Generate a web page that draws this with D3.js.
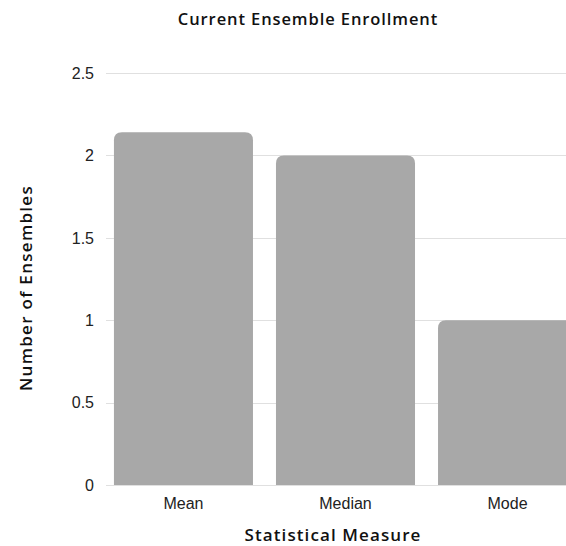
<!DOCTYPE html>
<html><head><meta charset="utf-8">
<script src="https://cdn.jsdelivr.net/npm/d3@7"></script>
<style>body{margin:0;background:#fff;}svg{display:block;}</style>
</head><body>
<script>
const categories = ["Mean", "Median", "Mode"];
const values = [2.14, 2, 1];
const yTicks = [0, 0.5, 1, 1.5, 2, 2.5];

const W = 566, H = 546;
const svg = d3.select("body").append("svg").attr("width", W).attr("height", H);

const y = d3.scaleLinear().domain([0, 2.5]).range([485, 73]);
const x = d3.scaleBand().domain(categories).range([106, 585]).paddingInner(0.142).paddingOuter(0.049);

// gridlines
svg.append("g").selectAll("line").data(yTicks.filter(d => d > 0)).join("line")
  .attr("x1", 106).attr("x2", W)
  .attr("y1", d => Math.round(y(d)) + 0.5).attr("y2", d => Math.round(y(d)) + 0.5)
  .attr("stroke", "#e0e0e0").attr("stroke-width", 1);

// y tick labels
svg.append("g").selectAll("text").data(yTicks).join("text")
  .attr("x", 94).attr("y", d => y(d)).attr("dy", "0.36em")
  .attr("text-anchor", "end")
  .style("font-family", "'Liberation Sans', Arial, sans-serif").style("font-size", "16px").style("fill", "#222")
  .text(d => d);

// bars with rounded top
const r = 8;
function barPath(x0, w, yTop, yBot) {
  return `M${x0},${yBot} V${yTop + r} Q${x0},${yTop} ${x0 + r},${yTop} H${x0 + w - r} Q${x0 + w},${yTop} ${x0 + w},${yTop + r} V${yBot} Z`;
}
svg.append("g").selectAll("path").data(categories).join("path")
  .attr("d", (c, i) => barPath(x(c), x.bandwidth(), y(values[i]), y(0)))
  .attr("fill", "#a8a8a8");

// baseline
svg.append("line").attr("x1", 106).attr("x2", W).attr("y1", y(0) + 0.5).attr("y2", y(0) + 0.5)
  .attr("stroke", "#e0e0e0");

// x labels
svg.append("g").selectAll("text").data(categories).join("text")
  .attr("x", c => x(c) + x.bandwidth() / 2).attr("y", 509)
  .attr("text-anchor", "middle")
  .style("font-family", "'Liberation Sans', Arial, sans-serif").style("font-size", "16px").style("fill", "#222")
  .text(c => c);

// titles
const titleFont = "'Open Sans', sans-serif";
svg.append("text").attr("x", 308).attr("y", 25).attr("text-anchor", "middle")
  .style("font-family", titleFont).style("font-size", "16.5px").style("font-weight", 600).style("fill", "#111")
  .style("letter-spacing", "0.9px")
  .text("Current Ensemble Enrollment");

svg.append("text").attr("x", 333).attr("y", 541).attr("text-anchor", "middle")
  .style("font-family", titleFont).style("font-size", "17px").style("font-weight", 600).style("fill", "#111")
  .style("letter-spacing", "1.1px")
  .text("Statistical Measure");

svg.append("text").attr("transform", "translate(32,288) rotate(-90)").attr("text-anchor", "middle")
  .style("font-family", titleFont).style("font-size", "17px").style("font-weight", 600).style("fill", "#111")
  .style("letter-spacing", "1.3px")
  .text("Number of Ensembles");
</script>
</body></html>
